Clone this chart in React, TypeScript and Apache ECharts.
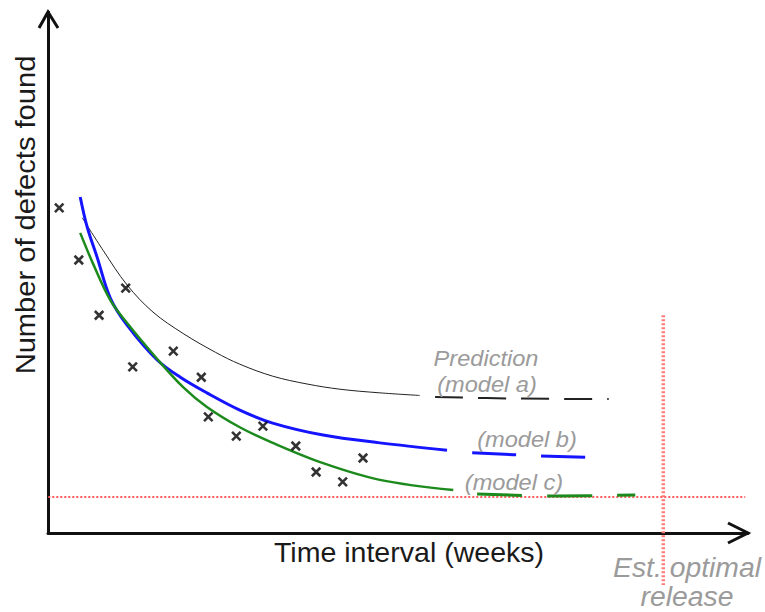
import React, { useEffect, useRef } from "react";
import * as echarts from "echarts";

// Observed defects per time interval (x = weeks on a 0..100 scale, y = defects on a 0..100 scale)
const observedDefects: [number, number][] = [
  [1.6, 62.4], [4.4, 52.4], [7.3, 41.8], [11.1, 47.0], [12.1, 31.9],
  [17.9, 34.9], [21.9, 29.9], [22.9, 22.3], [26.9, 18.6], [30.7, 20.5],
  [35.4, 16.7], [38.3, 11.7], [42.1, 9.8], [45.0, 14.4],
];

// Fitted models (solid part)
const modelAFit: [number, number][] = [
  [4.9, 60.5], [7.9, 54.2], [11.3, 47.6], [15.0, 42.4], [19.3, 38.3], [23.9, 34.7],
  [27.4, 32.4], [32.1, 30.1], [37.0, 28.6], [41.7, 27.6], [47.4, 26.9], [53.1, 26.4],
];
const modelBFit: [number, number][] = [
  [4.6, 64.5], [5.6, 58.7], [7.0, 53.0], [8.9, 45.1], [11.3, 39.9], [15.6, 33.2],
  [18.9, 29.9], [22.7, 26.9], [27.4, 23.6], [32.1, 21.1], [39.3, 18.8], [47.4, 17.3], [57.0, 15.9],
];
const modelCFit: [number, number][] = [
  [4.6, 57.6], [6.4, 51.8], [8.9, 44.7], [11.3, 40.3], [15.6, 33.4], [19.3, 28.0],
  [22.7, 24.2], [27.4, 20.3], [32.1, 17.3], [39.3, 13.4], [47.4, 10.2], [57.9, 8.25],
];

// Predictions (dashed part)
const modelAPrediction: [number, number][] = [[55.3, 26.1], [67.4, 25.8], [80.1, 25.7]];
const modelBPrediction: [number, number][] = [[60.6, 15.4], [70.3, 14.8], [80.3, 14.4]];
const modelCPrediction: [number, number][] = [[61.3, 7.5], [72.6, 7.1], [83.9, 7.3]];

// Target defect level and estimated optimal release time
const targetDefectLevel = 6.9;
const targetLineXSpan = [-1.1, 99.6];
const releaseWeek = 87.9;
const releaseLineYSpan = [41.8, -10];

const axisTitles = { x: "Time interval (weeks)", y: "Number of defects found" };
const modelLabels = ["Prediction", "(model a)", "(model b)", "(model c)"];
const releaseLabel = ["Est. optimal", "release"];

const FONT = '"Liberation Sans", Arial, sans-serif';
const GRAY = "#9b9b9b";

export default function App() {
  const ref = useRef<HTMLDivElement>(null);

  useEffect(() => {
    if (!ref.current) return;
    const chart = echarts.init(ref.current, undefined, { renderer: "svg" });

    const hiddenAxisParts = {
      axisTick: { show: false },
      axisLabel: { show: false },
      splitLine: { show: false },
    };

    const fitLine = (name: string, data: [number, number][], color: string, width: number) => ({
      type: "line",
      name,
      data,
      smooth: 0.35,
      symbol: "none",
      lineStyle: { color, width },
    });
    const predLine = (
      name: string,
      data: [number, number][],
      color: string,
      width: number,
      dash: number[]
    ) => ({
      type: "line",
      name,
      data,
      smooth: 0.35,
      symbol: "none",
      lineStyle: { color, width, type: dash },
    });

    chart.setOption({
      animation: false,
      backgroundColor: "#ffffff",
      grid: { left: 48, top: 12, right: 17, bottom: 79 },
      xAxis: {
        type: "value",
        min: 0,
        max: 100,
        axisLine: { show: true, onZero: false, lineStyle: { color: "#111", width: 3 } },
        ...hiddenAxisParts,
      },
      yAxis: {
        type: "value",
        min: 0,
        max: 100,
        axisLine: { show: true, onZero: false, lineStyle: { color: "#111", width: 3 } },
        ...hiddenAxisParts,
      },
      series: [
        {
          type: "line",
          name: "target",
          data: targetLineXSpan.map((x) => [x, targetDefectLevel]),
          clip: false,
          symbol: "none",
          lineStyle: { color: "#ff5a5a", width: 2, type: [2, 2] },
          z: 1,
        },
        {
          type: "line",
          name: "release",
          data: releaseLineYSpan.map((y) => [releaseWeek, y]),
          clip: false,
          symbol: "none",
          lineStyle: { color: "#ff7a7a", width: 3.5, type: [2, 2] },
          z: 1,
        },
        fitLine("model a", modelAFit, "#222", 1),
        predLine("model a prediction", modelAPrediction, "#222", 2, [28, 15]),
        fitLine("model b", modelBFit, "#1414ff", 3),
        predLine("model b prediction", modelBPrediction, "#1414ff", 3, [44, 25]),
        fitLine("model c", modelCFit, "#1c8a1c", 2.5),
        predLine("model c prediction", modelCPrediction, "#1c8a1c", 3, [45, 25]),
        {
          type: "scatter",
          name: "observed",
          data: observedDefects,
          symbol: "path://M0,0L10,10M0,10L10,0",
          symbolSize: 8.5,
          itemStyle: { color: "transparent", borderColor: "#000", borderWidth: 2.6 },
          z: 5,
        },
      ],
    });

    const xTip = chart.convertToPixel({ gridIndex: 0 }, [100, 0]) as number[];
    const yTip = chart.convertToPixel({ gridIndex: 0 }, [0, 100]) as number[];
    const arrowStyle = { stroke: "#111", lineWidth: 3, fill: "none" };

    const text = (
      str: string,
      x: number,
      y: number,
      size: number,
      fill: string,
      italic: boolean,
      rotation = 0,
      stretch = 1.05
    ) => ({
      type: "text",
      x,
      y,
      rotation,
      scaleX: stretch,
      style: {
        text: str,
        fill,
        fontSize: size,
        fontFamily: FONT,
        fontStyle: italic ? "italic" : "normal",
        align: "center",
        verticalAlign: "middle",
      },
      z: 10,
    });

    chart.setOption({
      graphic: [
        {
          type: "polyline",
          shape: { points: [[yTip[0] - 9, yTip[1] + 16], yTip, [yTip[0] + 10, yTip[1] + 16]] },
          style: arrowStyle,
        },
        {
          type: "polyline",
          shape: { points: [[xTip[0] - 20, xTip[1] - 10], xTip, [xTip[0] - 20, xTip[1] + 10]] },
          style: arrowStyle,
        },
        text(axisTitles.y, 25, 215, 28, "#1a1a1a", false, Math.PI / 2, 1.04),
        text(axisTitles.x, 409, 552, 28, "#1a1a1a", false, 0, 1.02),
        text(modelLabels[0], 486, 358, 22.5, GRAY, true),
        text(modelLabels[1], 487, 384, 22.5, GRAY, true),
        text(modelLabels[2], 527, 439, 22.5, GRAY, true),
        text(modelLabels[3], 514, 482, 22.5, GRAY, true),
        text(releaseLabel[0], 687, 568, 27, GRAY, true),
        text(releaseLabel[1], 687, 597, 27, GRAY, true),
      ],
    });

    return () => chart.dispose();
  }, []);

  return (
    <div
      ref={ref}
      style={{ position: "fixed", left: 0, top: 0, width: 765, height: 612 }}
    />
  );
}
